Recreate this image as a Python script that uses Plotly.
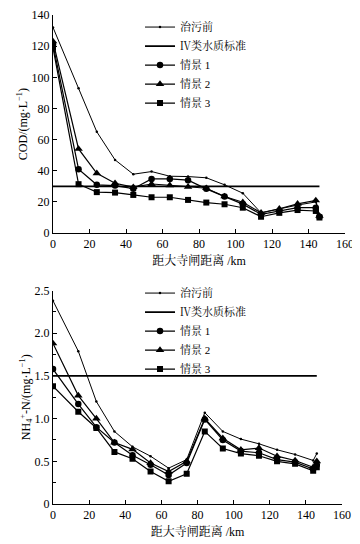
import plotly.graph_objects as go
from plotly.subplots import make_subplots

# distance from Dasi sluice (km)
dist = [0, 14, 24, 34, 44, 54, 64, 74, 84, 94, 104, 114, 124, 134, 144, 146]

# COD (mg/L)
cod_before = [132, 93, 65, 47, 37.8, 39.5, 36.5, 36.3, 35.5, 31, 25.6, 13, 15.5, 18, 20, 11]
cod_s1 = [121, 41, 31, 30.5, 28.5, 34.8, 34.8, 34, 28.4, 23.5, 18.6, 12, 14, 16.3, 16.3, 10.5]
cod_s2 = [123, 54, 38.4, 32, 29.5, 31.5, 30.7, 29.7, 28.8, 23.5, 19.8, 13, 15.6, 18.8, 21, 11]
cod_s3 = [119, 31.4, 26.3, 26, 24.5, 23, 23, 21.3, 19.6, 18.5, 16.3, 10.5, 13, 14.8, 14.2, 10]
cod_std = 30

# NH4+-N (mg/L)
nh_before = [2.38, 1.79, 1.20, 0.85, 0.67, 0.56, 0.42, 0.52, 1.07, 0.85, 0.76, 0.705, 0.635, 0.58, 0.51, 0.59]
nh_s1 = [1.58, 1.17, 0.90, 0.72, 0.57, 0.46, 0.34, 0.48, 0.99, 0.75, 0.62, 0.60, 0.52, 0.49, 0.41, 0.46]
nh_s2 = [1.88, 1.27, 1.0, 0.72, 0.64, 0.48, 0.38, 0.50, 1.0, 0.77, 0.635, 0.655, 0.56, 0.51, 0.43, 0.50]
nh_s3 = [1.38, 1.08, 0.89, 0.61, 0.53, 0.38, 0.265, 0.355, 0.85, 0.65, 0.59, 0.565, 0.50, 0.47, 0.39, 0.43]
nh_std = 1.5

std_x = [0, 146]

names = ["治污前", "Ⅳ类水质标准", "情景 1", "情景 2", "情景 3"]

FONT = "Times New Roman, Liberation Serif, Noto Serif CJK SC, Noto Sans CJK SC, serif"

fig = make_subplots(rows=2, cols=1)

def add_set(row, before, s1, s2, s3, std, legend):
    fig.add_trace(go.Scatter(x=dist, y=before, name=names[0], mode="lines+markers",
                             line=dict(color="black", width=1),
                             marker=dict(symbol="circle", size=2.5, color="black"),
                             legend=legend), row=row, col=1)
    fig.add_trace(go.Scatter(x=std_x, y=[std, std], name=names[1], mode="lines",
                             line=dict(color="black", width=1.8),
                             legend=legend), row=row, col=1)
    fig.add_trace(go.Scatter(x=dist, y=s1, name=names[2], mode="lines+markers",
                             line=dict(color="black", width=1.2),
                             marker=dict(symbol="circle", size=6.5, color="black"),
                             legend=legend), row=row, col=1)
    fig.add_trace(go.Scatter(x=dist, y=s2, name=names[3], mode="lines+markers",
                             line=dict(color="black", width=1.2),
                             marker=dict(symbol="triangle-up", size=7.5, color="black"),
                             legend=legend), row=row, col=1)
    fig.add_trace(go.Scatter(x=dist, y=s3, name=names[4], mode="lines+markers",
                             line=dict(color="black", width=1.2),
                             marker=dict(symbol="square", size=6, color="black"),
                             legend=legend), row=row, col=1)

add_set(1, cod_before, cod_s1, cod_s2, cod_s3, cod_std, "legend")
add_set(2, nh_before, nh_s1, nh_s2, nh_s3, nh_std, "legend2")

axis_common = dict(showline=True, linecolor="black", linewidth=1, showgrid=False,
                   zeroline=False, ticks="inside", ticklen=4, tickcolor="black",
                   automargin=False,
                   tickfont=dict(family=FONT, size=12, color="black"))

fig.update_xaxes(**axis_common, range=[0, 160], dtick=20)
fig.update_xaxes(domain=[0, 1], row=1, col=1)
fig.update_xaxes(domain=[0, 0.99], row=2, col=1)
fig.update_xaxes(title=dict(text="距大寺闸距离 /km", font=dict(family=FONT, size=12, color="black"),
                            standoff=6))
fig.update_yaxes(**axis_common)
fig.update_yaxes(range=[0, 140], dtick=20, domain=[0.554, 1.0], row=1, col=1,
                 title=dict(text="COD/(mg·L<sup>−1</sup>)", font=dict(family=FONT, size=12, color="black"),
                            standoff=1))
fig.update_yaxes(range=[0, 2.5], dtick=0.5, domain=[0, 0.4365], row=2, col=1,
                 title=dict(text="NH<sub>4</sub><sup>+</sup>-N/(mg·L<sup>−1</sup>)",
                            font=dict(family=FONT, size=12, color="black"), standoff=1))
fig.update_yaxes(tickvals=[0, 0.5, 1.0, 1.5, 2.0, 2.5], ticktext=["0", "0.5", "1.0", "1.5", "2.0", "2.5"],
                 minor=dict(ticks="inside", ticklen=3, tickcolor="black", dtick=0.25), row=2, col=1)

legend_style = dict(font=dict(family=FONT, size=11, color="black"), bgcolor="rgba(0,0,0,0)",
                    itemwidth=30, tracegroupgap=0, xanchor="left", yanchor="top")
# page body has an 8px default margin, so the figure is sized to fit the window
fig.update_layout(
    width=352, height=536,
    margin=dict(l=45, r=15, t=7, b=40, autoexpand=False),
    plot_bgcolor="white", paper_bgcolor="white",
    font=dict(family=FONT, size=12, color="black"),
    legend=dict(**legend_style, x=0.298, y=1.005),
    legend2=dict(**legend_style, x=0.298, y=0.461),
)

fig.write_html("out.html")
